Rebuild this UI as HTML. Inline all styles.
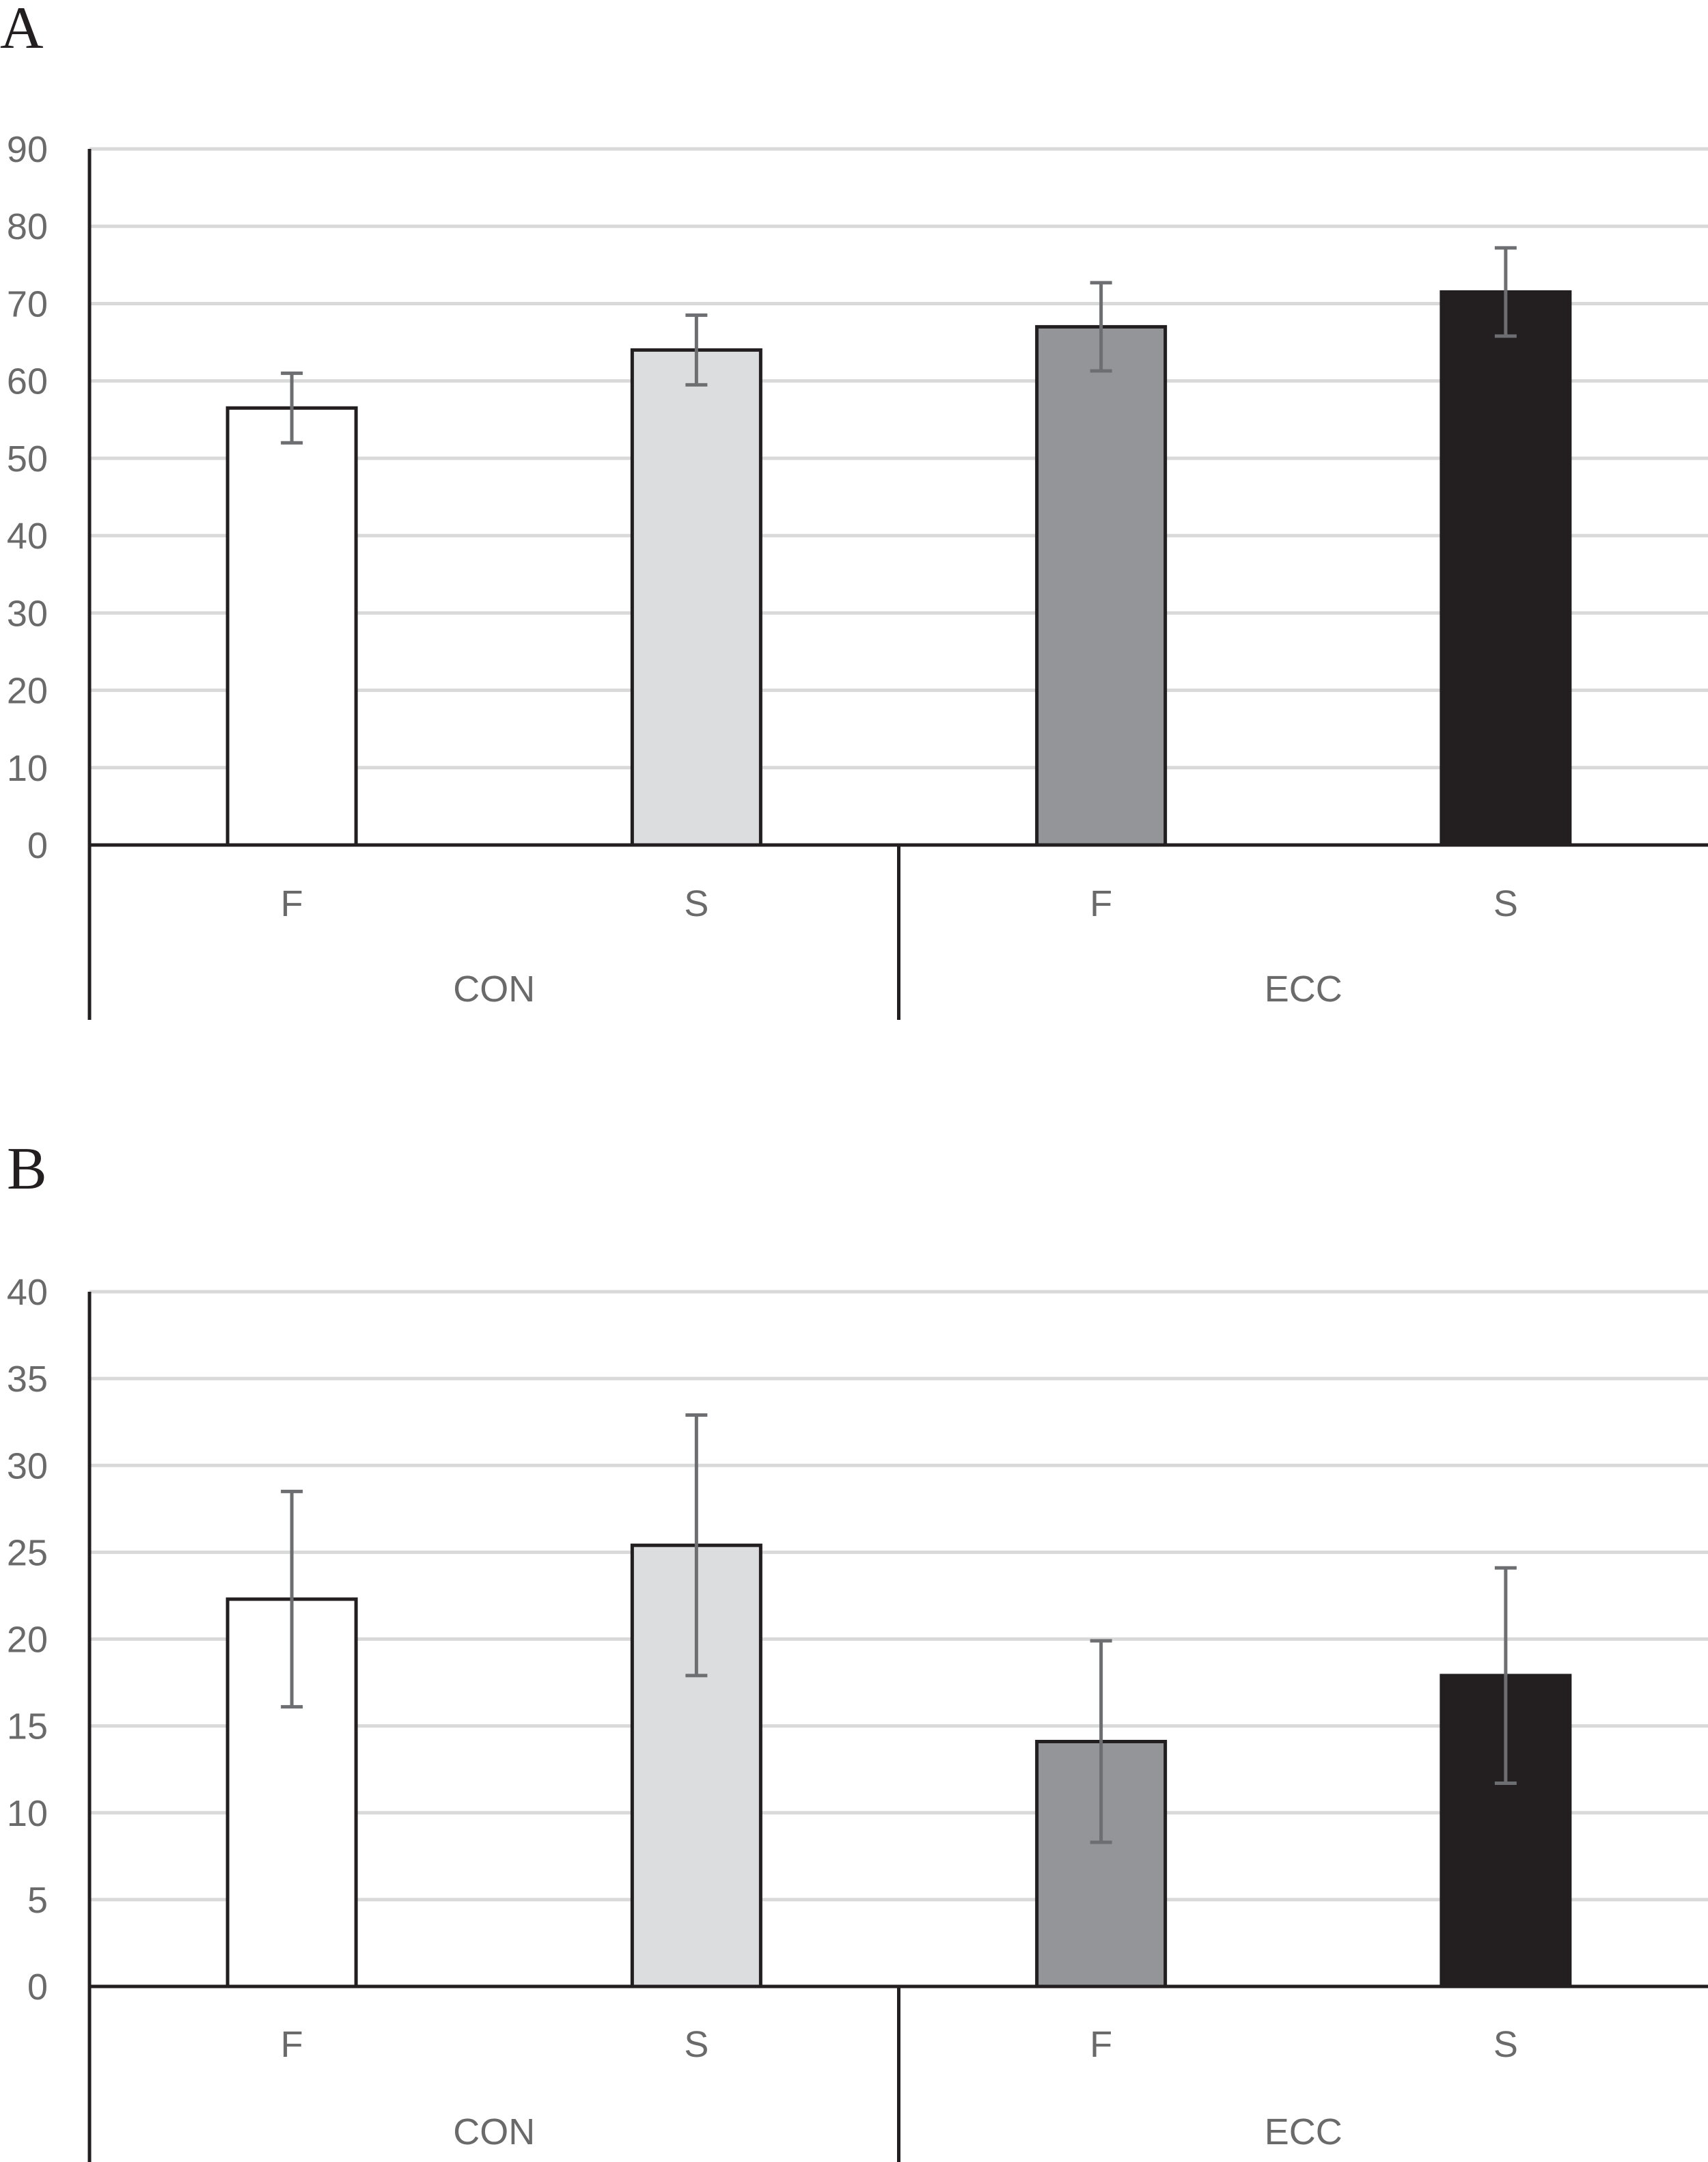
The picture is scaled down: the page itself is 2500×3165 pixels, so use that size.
<!DOCTYPE html>
<html><head><meta charset="utf-8">
<style>
html,body{margin:0;padding:0;background:#fff;}
svg{display:block;}
text{font-family:"Liberation Sans",sans-serif;}
</style></head>
<body>
<svg id="svg" width="2500" height="3165" viewBox="0 0 2500 3165" xmlns="http://www.w3.org/2000/svg">
<text x="0" y="70" style="font-family:'Liberation Serif',serif" font-size="88" fill="#231f20">A</text>
<text x="10" y="1740" style="font-family:'Liberation Serif',serif" font-size="88" fill="#231f20">B</text>
</svg>
<script>
const categories = ["F","S","F","S"];
const groups = ["CON","ECC"];
const fills = ["#ffffff","#dcdddf","#939598","#231f20"];
const valuesA = [56.5, 64, 67, 71.5];
const errorsA = [4.5, 4.5, 5.7, 5.7];
const ticksA = [0,10,20,30,40,50,60,70,80,90];
const valuesB = [22.3, 25.4, 14.1, 17.9];
const errorsB = [6.2, 7.5, 5.8, 6.2];
const ticksB = [0,5,10,15,20,25,30,35,40];

const NS = "http://www.w3.org/2000/svg";
const svg = document.getElementById('svg');
function mk(tag, attrs, parent){
  const e = document.createElementNS(NS, tag);
  for (const k in attrs) e.setAttribute(k, attrs[k]);
  (parent||svg).appendChild(e);
  return e;
}
function drawChart(id, values, errors, ticks, top, bottom, catY, grpY, axisBottom){
  const g = mk('g', {});
  
  
  const left = 131, right = 2500;
  const maxV = ticks[ticks.length-1];
  const y = v => bottom - (v / maxV) * (bottom - top);
  const slotW = (right - left) / values.length;
  const x = i => left + slotW * (i + 0.5);
  ticks.forEach(t => {
    if (t !== 0) {
      const gl = mk('line', {x1:left, x2:right, y1:y(t), y2:y(t), stroke:'#d9d9d9', 'stroke-width':5}, g);
      
      
    }
    const tl = mk('text', {x:70, y:y(t)+19, 'text-anchor':'end', 'font-size':54, fill:'#6a6a6a'}, g);
    tl.textContent = t;
    
    
  });
  const bw = 188;
  values.forEach((v, i) => {
    const r = mk('rect', {x:x(i)-bw/2, y:y(v), width:bw, height:bottom-y(v), fill:fills[i], stroke:'#231f20', 'stroke-width':5}, g);
    
    
    const e = errors[i];
    const eg = mk('g', {stroke:'#6d6e71', 'stroke-width':5}, g);
    
    
    mk('line', {x1:x(i), x2:x(i), y1:y(v+e), y2:y(v-e)}, eg);
    mk('line', {x1:x(i)-16, x2:x(i)+16, y1:y(v+e), y2:y(v+e)}, eg);
    mk('line', {x1:x(i)-16, x2:x(i)+16, y1:y(v-e), y2:y(v-e)}, eg);
    const cl = mk('text', {x:x(i), y:catY+19, 'text-anchor':'middle', 'font-size':54, fill:'#6a6a6a'}, g);
    cl.textContent = categories[i];
    
    
  });
  groups.forEach((gr, j) => {
    const gx = left + (right-left)/groups.length*(j+0.5);
    const t = mk('text', {x:gx, y:grpY+19, 'text-anchor':'middle', 'font-size':54, fill:'#6a6a6a'}, g);
    t.textContent = gr;
    
    
  });
  const ax = mk('g', {stroke:'#231f20', 'stroke-width':5}, g);
  
  
  mk('line', {x1:left, x2:left, y1:top, y2:axisBottom}, ax);
  mk('line', {x1:left, x2:right, y1:bottom, y2:bottom}, ax);
  const mid = (left+right)/2;
  mk('line', {x1:mid, x2:mid, y1:bottom, y2:axisBottom}, ax);
}
drawChart('a', valuesA, errorsA, ticksA, 218, 1237, 1322, 1447, 1493);
drawChart('b', valuesB, errorsB, ticksB, 1891, 2908, 2992, 3120, 3165);
</script>
</body></html>
